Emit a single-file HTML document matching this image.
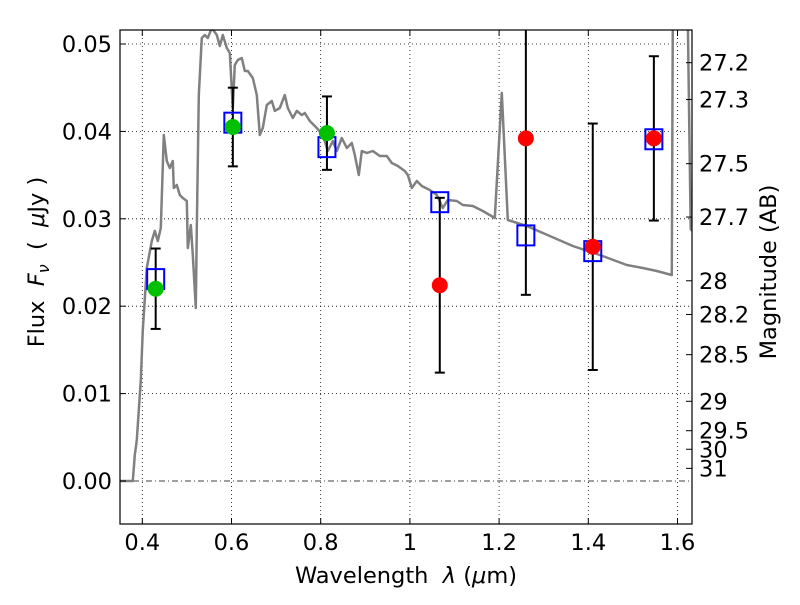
<!DOCTYPE html>
<html><head><meta charset="utf-8"><style>
html,body{margin:0;padding:0;background:#fff;}
svg text{font-family:"DejaVu Sans","Liberation Sans",sans-serif;}
</style></head><body>
<svg id="chart" width="800" height="600" viewBox="0 0 800 600" xmlns="http://www.w3.org/2000/svg">
<defs><clipPath id="plotclip"><rect x="120" y="30" width="572" height="494"/></clipPath></defs>
<rect x="0" y="0" width="800" height="600" fill="#fff"/>
<g id="grid"></g>
<g id="plot" clip-path="url(#plotclip)"></g>
<rect x="120" y="30" width="572" height="494" fill="none" stroke="#000" stroke-width="1.2"/>
<g id="axes"></g>
<text x="406" y="583" font-size="22.5" text-anchor="middle">Wavelength&#160;&#160;<tspan font-style="italic">λ</tspan> (<tspan font-style="italic">μ</tspan>m)</text>
<text transform="translate(44,262) rotate(-90)" font-size="22.5" text-anchor="middle">Flux&#160;&#160;<tspan font-style="italic">F</tspan><tspan font-style="italic" font-size="16" dy="5">ν</tspan><tspan dy="-5">&#160;&#160;(&#160;&#160;</tspan><tspan font-style="italic">μ</tspan>Jy )</text>
<text transform="translate(776,272) rotate(-90)" font-size="22.5" text-anchor="middle">Magnitude (AB)</text>
</svg>
<script>
const xTicks=[0.4,0.6,0.8,1.0,1.2,1.4,1.6];
const xTickLabels=["0.4","0.6","0.8","1","1.2","1.4","1.6"];
const yTicks=[0,0.01,0.02,0.03,0.04,0.05];
const yTickLabels=["0.00","0.01","0.02","0.03","0.04","0.05"];
const magTicks=[27.2,27.3,27.5,27.7,28,28.2,28.5,29,29.5,30,31];
const magLabels=["27.2","27.3","27.5","27.7","28","28.2","28.5","29","29.5","30","31"];
const specWave=[0.3496,0.3787,0.3832,0.3877,0.3922,0.3966,0.4011,0.4101,0.4213,0.4280,0.4348,0.4415,0.4482,0.4549,0.4617,0.4684,0.4706,0.4773,0.4841,0.4908,0.4998,0.5020,0.5087,0.5132,0.5199,0.5222,0.5267,0.5334,0.5401,0.5468,0.5558,0.5670,0.5738,0.5805,0.5895,0.5962,0.6029,0.6074,0.6141,0.6231,0.6298,0.6365,0.6478,0.6567,0.6634,0.6702,0.6791,0.6904,0.6971,0.7083,0.7195,0.7262,0.7374,0.7464,0.7576,0.7643,0.7756,0.7913,0.8047,0.8159,0.8272,0.8361,0.8473,0.8585,0.8697,0.8765,0.8854,0.8922,0.9034,0.9168,0.9325,0.9482,0.9594,0.9729,0.9886,0.9953,1.0042,1.0155,1.0267,1.0446,1.0603,1.0738,1.0850,1.1052,1.1186,1.1410,1.1634,1.1904,1.2060,1.2195,1.2621,1.3136,1.3652,1.4257,1.4863,1.5221,1.5535,1.5872,1.5894,1.6230,1.6297,1.6499];
const specFlux=[0,0,0.00297,0.00469,0.00812,0.01156,0.01728,0.02437,0.02746,0.02861,0.02746,0.02895,0.03959,0.03661,0.03581,0.03661,0.03352,0.03387,0.03272,0.03238,0.03204,0.02666,0.02929,0.02586,0.01979,0.02895,0.04417,0.05069,0.05103,0.05069,0.05183,0.05103,0.04977,0.05103,0.04954,0.04897,0.04268,0.0476,0.04817,0.0484,0.04691,0.04691,0.04611,0.04417,0.03959,0.04039,0.04302,0.04348,0.04234,0.04268,0.04417,0.04268,0.04153,0.04234,0.04188,0.04211,0.04119,0.04039,0.03959,0.03776,0.0389,0.03776,0.03925,0.0381,0.03867,0.0373,0.03501,0.03776,0.03753,0.03776,0.03719,0.03719,0.03639,0.03604,0.03547,0.03501,0.03352,0.03433,0.03375,0.0333,0.03272,0.03124,0.03215,0.03204,0.03158,0.03147,0.03089,0.03009,0.0444,0.02986,0.02918,0.02803,0.02689,0.02586,0.02471,0.02437,0.02403,0.02357,0.05275,0.05275,0.02883,0.02758];
const greenWave=[0.430,0.603,0.814];
const greenFlux=[0.0220,0.0405,0.0398];
const greenErr=[0.0046,0.0045,0.0042];
const redWave=[1.067,1.260,1.410,1.547];
const redFlux=[0.0224,0.0392,0.0268,0.0392];
const redErr=[0.0100,0.0179,0.0141,0.0094];
const modelWave=[0.430,0.603,0.814,1.067,1.260,1.410,1.547];
const modelFlux=[0.0231,0.0410,0.0382,0.0319,0.0281,0.0263,0.0391];

const NS="http://www.w3.org/2000/svg";
const X0=120,X1=692,Y0=30,Y1=524;
const XMIN=0.35,XMAX=0.35+(X1-X0)*0.2/89.2;
const YMAX=(481-Y0)/8740,YMIN=(481-Y1)/8740;
const sx=v=>X0+(v-XMIN)/(XMAX-XMIN)*(X1-X0);
const sy=v=>Y1-(v-YMIN)/(YMAX-YMIN)*(Y1-Y0);
const magToFlux=m=>Math.pow(10,(23.9-m)/2.5);
function mk(tag,attrs,parent){const e=document.createElementNS(NS,tag);for(const k in attrs)e.setAttribute(k,attrs[k]);parent.appendChild(e);return e;}
const grid=document.getElementById('grid'),plot=document.getElementById('plot'),axes=document.getElementById('axes');
xTicks.forEach((t,i)=>{const x=sx(t);
 const g=mk('line',{x1:x,x2:x,y1:Y0,y2:Y1,stroke:'#000','stroke-width':0.8,'stroke-dasharray':'1,3'},grid);
 
 
 mk('line',{x1:x,x2:x,y1:Y1,y2:Y1-6,stroke:'#000','stroke-width':1},axes);
 mk('line',{x1:x,x2:x,y1:Y0,y2:Y0+6,stroke:'#000','stroke-width':1},axes);
 const tx=mk('text',{x:x,y:Y1+26,'font-size':22.5,'text-anchor':'middle'},axes);tx.textContent=xTickLabels[i];
 
 
});
yTicks.forEach((t,i)=>{const y=sy(t);
 const g=mk('line',{x1:X0,x2:X1,y1:y,y2:y,stroke:'#000','stroke-width':0.8,'stroke-dasharray':t===0?'6,3,1,3':'1,3'},grid);
 
 
 mk('line',{x1:X0,x2:X0+6,y1:y,y2:y,stroke:'#000','stroke-width':1},axes);
 const tx=mk('text',{x:X0-8,y:y+8,'font-size':22.5,'text-anchor':'end'},axes);tx.textContent=yTickLabels[i];
 
 
});
magTicks.forEach((m,i)=>{const y=sy(magToFlux(m));
 mk('line',{x1:X1,x2:X1-6,y1:y,y2:y,stroke:'#000','stroke-width':1},axes);
 const tx=mk('text',{x:X1+7,y:y+8,'font-size':22.5},axes);tx.textContent=magLabels[i];
 
 
});
const pts=specWave.map((w,i)=>sx(w).toFixed(1)+','+sy(specFlux[i]).toFixed(1)).join(' ');
const sp=mk('polyline',{points:pts,fill:'none',stroke:'#808080','stroke-width':2.5,'stroke-linejoin':'round'},plot);


function errbar(w,f,e){const x=sx(w);
 const g=mk('g',{},plot);
 
 
 mk('line',{x1:x,x2:x,y1:sy(f+e),y2:sy(f-e),stroke:'#000','stroke-width':2},g);
 [f+e,f-e].forEach(v=>mk('line',{x1:x-5,x2:x+5,y1:sy(v),y2:sy(v),stroke:'#000','stroke-width':2},g));}
greenWave.forEach((w,i)=>errbar(w,greenFlux[i],greenErr[i]));
redWave.forEach((w,i)=>errbar(w,redFlux[i],redErr[i]));
modelWave.forEach((w,i)=>{const r=mk('rect',{x:sx(w)-8.5,y:sy(modelFlux[i])-10,width:17,height:20,fill:'none',stroke:'#0000ff','stroke-width':2},plot);
 
 });
greenWave.forEach((w,i)=>{const c=mk('circle',{cx:sx(w),cy:sy(greenFlux[i]),r:8,fill:'#00c000'},plot);
 
 });
redWave.forEach((w,i)=>{const c=mk('circle',{cx:sx(w),cy:sy(redFlux[i]),r:8,fill:'#ff0000'},plot);
 
 });
</script>
</body></html>
